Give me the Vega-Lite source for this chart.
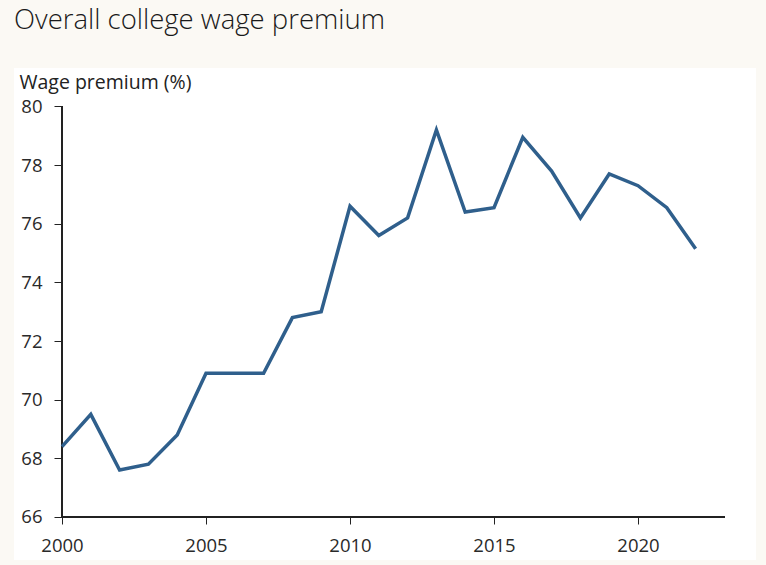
{
  "$schema": "https://vega.github.io/schema/vega-lite/v6.json",
  "width": 742,
  "height": 492,
  "autosize": {"type": "none"},
  "padding": {"left": 14, "top": 68, "right": 10, "bottom": 5},
  "background": "#fbf9f4",
  "title": {
    "text": "Overall college wage premium",
    "anchor": "start",
    "frame": "group",
    "font": "Open Sans",
    "fontWeight": 300,
    "fontSize": 27.5,
    "color": "#1a1a1a",
    "offset": 34
  },
  "config": {
    "view": {"fill": "white", "stroke": null},
    "axis": {
      "labelFont": "Open Sans",
      "labelFontSize": 18.5,
      "labelColor": "#2a2a2a",
      "tickColor": "#222222",
      "tickWidth": 1,
      "grid": false,
      "domain": false
    }
  },
  "data": {
    "values": [
      {"year": 2000, "premium": 68.4},
      {"year": 2001, "premium": 69.5},
      {"year": 2002, "premium": 67.6},
      {"year": 2003, "premium": 67.8},
      {"year": 2004, "premium": 68.8},
      {"year": 2005, "premium": 70.9},
      {"year": 2006, "premium": 70.9},
      {"year": 2007, "premium": 70.9},
      {"year": 2008, "premium": 72.8},
      {"year": 2009, "premium": 73.0},
      {"year": 2010, "premium": 76.6},
      {"year": 2011, "premium": 75.6},
      {"year": 2012, "premium": 76.2},
      {"year": 2013, "premium": 79.2},
      {"year": 2014, "premium": 76.4},
      {"year": 2015, "premium": 76.55},
      {"year": 2016, "premium": 78.95},
      {"year": 2017, "premium": 77.8},
      {"year": 2018, "premium": 76.2},
      {"year": 2019, "premium": 77.7},
      {"year": 2020, "premium": 77.3},
      {"year": 2021, "premium": 76.55},
      {"year": 2022, "premium": 75.15}
    ]
  },
  "layer": [
    {
      "mark": {"type": "rule", "color": "#222222", "strokeWidth": 1},
      "encoding": {
        "x": {"datum": 2000, "type": "quantitative"},
        "y": {"datum": 66, "type": "quantitative"},
        "y2": {"datum": 80}
      }
    },
    {
      "mark": {"type": "rule", "color": "#222222", "strokeWidth": 1},
      "encoding": {
        "y": {"datum": 66, "type": "quantitative"},
        "x": {"datum": 2000, "type": "quantitative"},
        "x2": {"datum": 2023}
      }
    },
    {
      "mark": {"type": "line", "color": "#2f5f8c", "strokeWidth": 3.5, "strokeJoin": "miter"},
      "encoding": {
        "x": {
          "field": "year",
          "type": "quantitative",
          "scale": {"domain": [1998.333, 2024.097], "nice": false, "zero": false},
          "axis": {
            "values": [2000, 2005, 2010, 2015, 2020],
            "format": "d",
            "offset": -43,
            "tickSize": 7,
            "labelPadding": 12,
            "title": null
          }
        },
        "y": {
          "field": "premium",
          "type": "quantitative",
          "scale": {"domain": [64.533, 81.313], "nice": false, "zero": false},
          "axis": {
            "values": [66, 68, 70, 72, 74, 76, 78, 80],
            "offset": -48,
            "tickSize": 8,
            "labelPadding": 12,
            "title": "Wage premium (%)",
            "titleAngle": 0,
            "titleAlign": "left",
            "titleBaseline": "alphabetic",
            "titleX": -43,
            "titleY": 20,
            "titleFont": "Open Sans",
            "titleFontSize": 19.5,
            "titleFontWeight": "normal",
            "titleColor": "#222222",
            "titleLimit": 400
          }
        }
      }
    }
  ]
}
